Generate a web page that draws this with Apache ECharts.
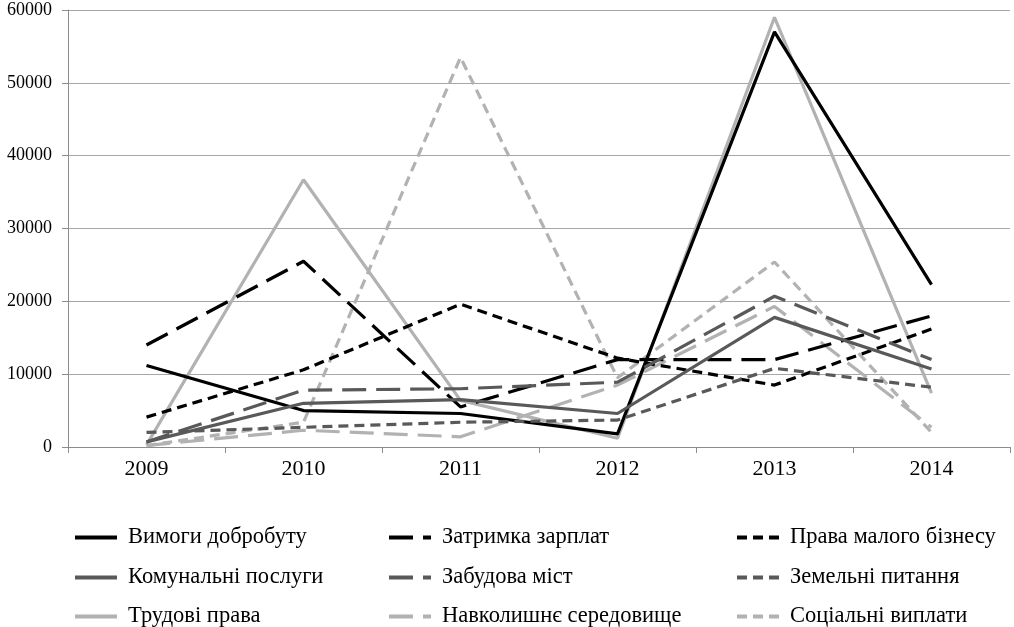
<!DOCTYPE html>
<html>
<head>
<meta charset="utf-8">
<script src="https://cdn.jsdelivr.net/npm/echarts@6/dist/echarts.min.js"></script>
<style>
  html, body { margin: 0; padding: 0; background: #fff; }
  #chart { width: 1014px; height: 627px; }
</style>
</head>
<body>
<div id="chart"></div>
<script>
const years = ['2009', '2010', '2011', '2012', '2013', '2014']

// значення
const vymohyDobrobutu = [11200, 5000, 4600, 1800, 57000, 22300]
const zatrymkaZarplat = [14000, 25500, 5500, 12000, 12000, 18000]
const pravaBiznesu = [4100, 10600, 19600, 12200, 8500, 16200]
const komunalni = [700, 6000, 6500, 4600, 17800, 10700]
const zabudova = [700, 7800, 8000, 8900, 20700, 12000]
const zemelni = [2000, 2700, 3400, 3700, 10800, 8200]
const trudovi = [300, 36700, 6400, 1200, 59000, 7400]
const seredovyshche = [200, 2300, 1400, 8500, 19300, 2700]
const sotsialni = [200, 3400, 53500, 9500, 25400, 2000]

const BLACK = '#000000'
const DARK = '#595959'
const LIGHT = '#b2b2b2'
const SOLID = 'solid'
const LONG = [24, 10]
const SHORT = [10, 6]

const seriesDefs = [
    { name: 'Вимоги добробуту', data: vymohyDobrobutu, color: BLACK, type: SOLID },
    { name: 'Затримка зарплат', data: zatrymkaZarplat, color: BLACK, type: LONG },
    { name: 'Права малого бізнесу', data: pravaBiznesu, color: BLACK, type: SHORT },
    { name: 'Комунальні послуги', data: komunalni, color: DARK, type: SOLID },
    { name: 'Забудова міст', data: zabudova, color: DARK, type: LONG },
    { name: 'Земельні питання', data: zemelni, color: DARK, type: SHORT },
    { name: 'Трудові права', data: trudovi, color: LIGHT, type: SOLID },
    { name: 'Навколишнє середовище', data: seredovyshche, color: LIGHT, type: LONG },
    { name: 'Соціальні виплати', data: sotsialni, color: LIGHT, type: SHORT },
]

const font = '"Liberation Serif", "DejaVu Serif", serif'

const colLeft = [73, 387, 735]
const rowTop = [526, 566, 605]

// одна легенда на кожен пункт, щоб тримати сітку 3x3
const legends = seriesDefs.map((s, i) => ({
    left: colLeft[i % 3],
    top: rowTop[Math.floor(i / 3)],
    padding: 0,
    itemWidth: 42,
    itemHeight: 16,
    itemGap: 0,
    itemStyle: { opacity: 0 },
    lineStyle: { width: 4 },
    textStyle: { fontFamily: font, fontSize: 22.5, color: '#000', padding: [0, 0, 0, 6] },
    data: [s.name],
}))

let chart = echarts.init(document.getElementById('chart'))

chart.setOption({
    animation: false,
    textStyle: { fontFamily: font },
    grid: { left: 68, right: 4, top: 10, bottom: 180, containLabel: false },
    legend: legends,
    xAxis: {
        type: 'category',
        data: years,
        boundaryGap: true,
        axisLine: { lineStyle: { color: '#8c8c8c', width: 1 } },
        axisTick: { show: true, length: 6, lineStyle: { color: '#8c8c8c' } },
        axisLabel: { color: '#000', fontFamily: font, fontSize: 22, margin: 11 },
    },
    yAxis: {
        type: 'value',
        min: 0,
        max: 60000,
        interval: 10000,
        axisLine: { show: true, lineStyle: { color: '#8c8c8c', width: 1 } },
        axisTick: { show: true, length: 6, lineStyle: { color: '#8c8c8c' } },
        axisLabel: { color: '#000', fontFamily: font, fontSize: 18, margin: 16, formatter: v => String(v) },
        splitLine: { lineStyle: { color: '#a6a6a6', width: 1 } },
    },
    series: seriesDefs.map(s => ({
        name: s.name,
        type: 'line',
        data: s.data,
        symbol: 'none',
        color: s.color,
        lineStyle: { color: s.color, width: 3.2, type: s.type },
        z: s.color === LIGHT ? 2 : 3,
    })),
})
</script>
</body>
</html>
